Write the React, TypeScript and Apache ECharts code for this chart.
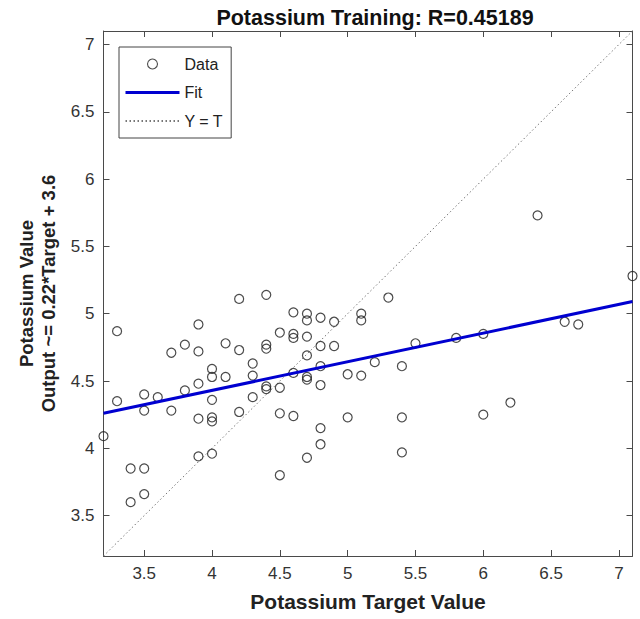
import React, { useEffect, useRef } from "react";
import * as echarts from "echarts";

const targetValues = [
  3.2,
  3.3, 3.3,
  3.4, 3.4,
  3.5, 3.5, 3.5, 3.5,
  3.6,
  3.7, 3.7,
  3.8, 3.8,
  3.9, 3.9, 3.9, 3.9, 3.9,
  4.0, 4.0, 4.0, 4.0, 4.0, 4.0,
  4.1, 4.1,
  4.2, 4.2, 4.2,
  4.3, 4.3, 4.3,
  4.4, 4.4, 4.4, 4.4, 4.4,
  4.5, 4.5, 4.5, 4.5,
  4.6, 4.6, 4.6, 4.6, 4.6,
  4.7, 4.7, 4.7, 4.7, 4.7, 4.7, 4.7,
  4.8, 4.8, 4.8, 4.8, 4.8, 4.8,
  4.9, 4.9,
  5.0, 5.0,
  5.1, 5.1, 5.1,
  5.2,
  5.3,
  5.4, 5.4, 5.4,
  5.5,
  5.8,
  6.0, 6.0,
  6.2,
  6.4,
  6.6,
  6.7,
  7.1,
];

const outputValues = [
  4.09,
  4.87, 4.35,
  3.85, 3.6,
  4.4, 4.28, 3.85, 3.66,
  4.38,
  4.71, 4.28,
  4.77, 4.43,
  4.92, 4.72, 4.48, 4.22, 3.94,
  4.59, 4.53, 4.36, 4.23, 4.2, 3.96,
  4.78, 4.53,
  5.11, 4.73, 4.27,
  4.63, 4.54, 4.38,
  5.14, 4.77, 4.74, 4.46, 4.44,
  4.86, 4.45, 4.26, 3.8,
  5.01, 4.85, 4.82, 4.56, 4.24,
  5.0, 4.95, 4.83, 4.69, 4.53, 4.51, 3.93,
  4.97, 4.76, 4.61, 4.47, 4.15, 4.03,
  4.94, 4.76,
  4.55, 4.23,
  5.0, 4.95, 4.54,
  4.64,
  5.12,
  4.61, 4.23, 3.97,
  4.78,
  4.82,
  4.85, 4.25,
  4.34,
  5.73,
  4.94,
  4.92,
  5.28,
];

const fitX = [3.2, 7.1];
const fitY = [4.26, 5.09];
const identityX = [3.2, 7.1];
const identityY = [3.2, 7.1];

const xTicks = [3.5, 4, 4.5, 5, 5.5, 6, 6.5, 7];
const yTicks = [3.5, 4, 4.5, 5, 5.5, 6, 6.5, 7];
const axisMin = 3.2;
const axisMax = 7.1;

const titleText = "Potassium Training: R=0.45189";
const xName = "Potassium Target Value";
const yName = "Potassium Value\nOutput ~= 0.22*Target + 3.6";
const legendNames = ["Data", "Fit", "Y = T"];

const FONT = "'Liberation Sans', Arial, Helvetica, sans-serif";
const AXIS_COLOR = "#4a4a4a";
const LABEL_COLOR = "#333333";

function makeAxis(kind: "x" | "y", position: string, showLabel: boolean, ticks: number[]) {
  const base: any = {
    type: "value",
    position,
    min: axisMin,
    max: axisMax,
    scale: true,
    splitLine: { show: false },
    axisLine: { show: true, onZero: false, lineStyle: { color: AXIS_COLOR, width: 1 } },
    axisTick: {
      show: true,
      inside: true,
      length: 6,
      customValues: ticks,
      lineStyle: { color: AXIS_COLOR, width: 1 },
    },
    axisLabel: {
      show: showLabel,
      customValues: ticks,
      fontFamily: FONT,
      fontSize: 17,
      color: LABEL_COLOR,
      margin: 9,
      formatter: (v: number) => String(v),
    },
  };
  if (showLabel) {
    if (kind === "x") {
      base.name = xName;
      base.nameLocation = "middle";
      base.nameGap = 35;
      base.nameTextStyle = { fontFamily: FONT, fontSize: 21, fontWeight: "bold", color: "#222" };
    } else {
      base.name = yName;
      base.nameLocation = "middle";
      base.nameRotate = 90;
      base.nameGap = 42;
      base.nameTextStyle = {
        fontFamily: FONT,
        fontSize: 18.5,
        fontWeight: "bold",
        color: "#222",
        lineHeight: 22,
      };
    }
  }
  return base;
}

export default function App() {
  const ref = useRef<HTMLDivElement>(null);

  useEffect(() => {
    if (!ref.current) return;
    const chart = echarts.init(ref.current, undefined, { renderer: "svg" });
    const scatterData = targetValues.map((t, i) => [t, outputValues[i]]);
    const fitData = fitX.map((x, i) => [x, fitY[i]]);
    const idData = identityX.map((x, i) => [x, identityY[i]]);

    chart.setOption({
      animation: false,
      backgroundColor: "#ffffff",
      title: {
        text: titleText,
        left: 370,
        textAlign: "center",
        top: 2,
        textStyle: { fontFamily: FONT, fontSize: 21.5, fontWeight: "bold", color: "#111" },
      },
      grid: { left: 103.5, right: 7.5, top: 31, bottom: 63, containLabel: false },
      legend: {
        show: true,
        orient: "vertical",
        left: 119,
        top: 47,
        padding: [9, 8, 9, 5],
        itemWidth: 54,
        itemHeight: 10,
        itemGap: 12.5,
        borderColor: "#444",
        borderWidth: 1,
        backgroundColor: "#ffffff",
        selectedMode: false,
        textStyle: { fontFamily: FONT, fontSize: 16, color: "#222" },
        data: [
          { name: legendNames[0], itemStyle: { borderWidth: 1.1 } },
          { name: legendNames[1], itemStyle: { opacity: 0 }, lineStyle: { width: 3 } },
          { name: legendNames[2], itemStyle: { opacity: 0 } },
        ],
      },
      xAxis: [makeAxis("x", "bottom", true, xTicks), makeAxis("x", "top", false, xTicks)],
      yAxis: [makeAxis("y", "left", true, yTicks), makeAxis("y", "right", false, yTicks)],
      series: [
        {
          name: legendNames[2],
          type: "line",
          data: idData,
          symbol: "none",
          lineStyle: { color: "#777", width: 1, type: [1.5, 2.5] },
          itemStyle: { color: "#777", opacity: 0 },
          z: 1,
        },
        {
          name: legendNames[0],
          type: "scatter",
          data: scatterData,
          symbol: "circle",
          symbolSize: 9,
          itemStyle: { color: "rgba(0,0,0,0)", borderColor: "#1e1e1e", borderWidth: 1.2 },
          z: 2,
        },
        {
          name: legendNames[1],
          type: "line",
          data: fitData,
          symbol: "none",
          lineStyle: { color: "#0000d0", width: 3 },
          itemStyle: { color: "#0000d0", opacity: 0 },
          z: 3,
        },
      ],
    });

    return () => chart.dispose();
  }, []);

  return (
    <div
      ref={ref}
      style={{ position: "fixed", left: 0, top: 0, width: 640, height: 619, background: "#fff" }}
    />
  );
}
